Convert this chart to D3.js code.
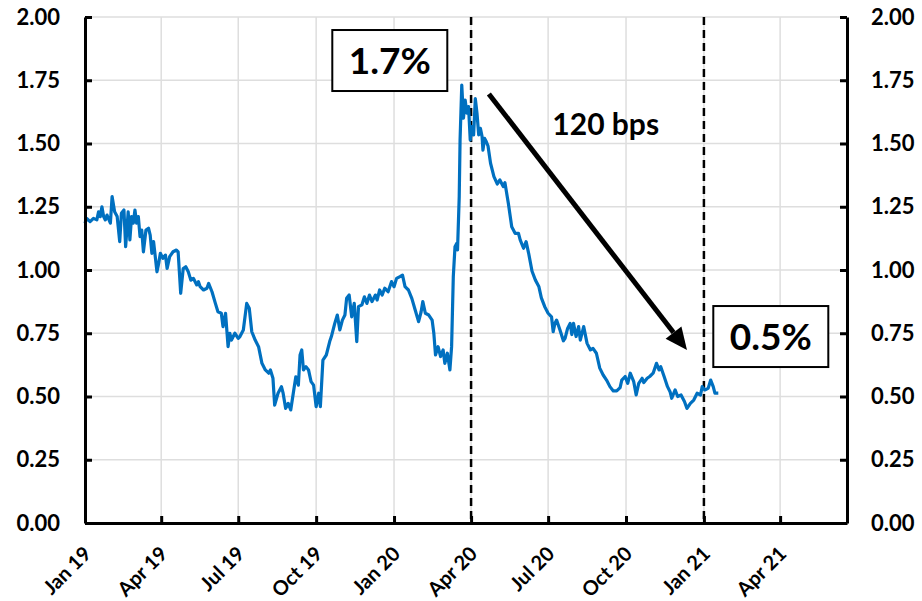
<!DOCTYPE html>
<html>
<head>
<meta charset="utf-8">
<script src="https://cdn.jsdelivr.net/npm/d3@7/dist/d3.min.js"></script>
<style>
  html, body { margin: 0; padding: 0; background: #fff; }
  svg { display: block; }
  text { font-family: Lato, "Open Sans", sans-serif; font-weight: 700; fill: #000; }
</style>
</head>
<body>
<svg id="chart" width="922" height="601"></svg>
<script>
// Daily yield observations (%), January 2019 – January 2021
const obsDates = [
  "2019-01-01","2019-01-03","2019-01-07","2019-01-11","2019-01-15","2019-01-17","2019-01-19","2019-01-21","2019-01-23","2019-01-25",
  "2019-01-27","2019-01-31","2019-02-02","2019-02-05","2019-02-08","2019-02-11","2019-02-13","2019-02-16","2019-02-18","2019-02-21",
  "2019-02-23","2019-02-25","2019-02-27","2019-03-01","2019-03-03","2019-03-05","2019-03-07","2019-03-09","2019-03-11","2019-03-14",
  "2019-03-17","2019-03-19","2019-03-21","2019-03-23","2019-03-27","2019-03-29","2019-03-31","2019-04-03","2019-04-06","2019-04-08",
  "2019-04-11","2019-04-15","2019-04-19","2019-04-21","2019-04-24","2019-04-27","2019-04-30","2019-05-03","2019-05-06","2019-05-09",
  "2019-05-13","2019-05-15","2019-05-17","2019-05-21","2019-05-25","2019-05-27","2019-05-31","2019-06-04","2019-06-07","2019-06-11",
  "2019-06-13","2019-06-16","2019-06-19","2019-06-21","2019-06-23","2019-06-27","2019-07-01","2019-07-03","2019-07-07","2019-07-11",
  "2019-07-14","2019-07-17","2019-07-21","2019-07-25","2019-07-29","2019-08-02","2019-08-06","2019-08-08","2019-08-11","2019-08-13",
  "2019-08-17","2019-08-21","2019-08-23","2019-08-26","2019-08-29","2019-09-01","2019-09-04","2019-09-07","2019-09-10","2019-09-12",
  "2019-09-14","2019-09-16","2019-09-19","2019-09-22","2019-09-25","2019-09-28","2019-10-01","2019-10-04","2019-10-06","2019-10-09",
  "2019-10-13","2019-10-17","2019-10-19","2019-10-23","2019-10-26","2019-10-29","2019-11-01","2019-11-04","2019-11-06","2019-11-09",
  "2019-11-12","2019-11-15","2019-11-18","2019-11-20","2019-11-24","2019-11-27","2019-11-30","2019-12-03","2019-12-06","2019-12-10",
  "2019-12-12","2019-12-15","2019-12-18","2019-12-21","2019-12-25","2019-12-29","2020-01-01","2020-01-04","2020-01-08","2020-01-11",
  "2020-01-14","2020-01-18","2020-01-22","2020-01-26","2020-01-30","2020-02-02","2020-02-04","2020-02-07","2020-02-11","2020-02-15",
  "2020-02-17","2020-02-19","2020-02-22","2020-02-25","2020-02-28","2020-03-01","2020-03-04","2020-03-07","2020-03-09","2020-03-11",
  "2020-03-13","2020-03-15","2020-03-16","2020-03-18","2020-03-19","2020-03-21","2020-03-23","2020-03-25","2020-03-27","2020-03-29",
  "2020-03-31","2020-04-02","2020-04-04","2020-04-06","2020-04-08","2020-04-10","2020-04-12","2020-04-14","2020-04-15","2020-04-17",
  "2020-04-19","2020-04-21","2020-04-24","2020-04-28","2020-05-02","2020-05-05","2020-05-09","2020-05-11","2020-05-15","2020-05-19",
  "2020-05-23","2020-05-27","2020-05-29","2020-06-02","2020-06-05","2020-06-08","2020-06-12","2020-06-16","2020-06-20","2020-06-23",
  "2020-06-27","2020-07-01","2020-07-05","2020-07-07","2020-07-09","2020-07-11","2020-07-15","2020-07-19","2020-07-21","2020-07-24",
  "2020-07-27","2020-07-29","2020-07-31","2020-08-03","2020-08-06","2020-08-08","2020-08-12","2020-08-16","2020-08-20","2020-08-23",
  "2020-08-27","2020-08-31","2020-09-04","2020-09-08","2020-09-12","2020-09-16","2020-09-20","2020-09-24","2020-09-26","2020-09-30",
  "2020-10-03","2020-10-06","2020-10-10","2020-10-13","2020-10-16","2020-10-20","2020-10-22","2020-10-26","2020-10-29","2020-11-02",
  "2020-11-06","2020-11-09","2020-11-11","2020-11-15","2020-11-19","2020-11-22","2020-11-24","2020-11-28","2020-12-01","2020-12-05",
  "2020-12-09","2020-12-12","2020-12-16","2020-12-20","2020-12-24","2020-12-28","2020-12-30","2021-01-02","2021-01-06","2021-01-09",
  "2021-01-12","2021-01-14","2021-01-18"
];
const yieldValues = [
  1.185,1.204,1.191,1.204,1.198,1.230,1.211,1.250,1.211,1.198,
  1.217,1.185,1.290,1.230,1.211,1.112,1.224,1.237,1.092,1.230,
  1.119,1.211,1.185,1.237,1.185,1.211,1.132,1.158,1.072,1.158,
  1.165,1.138,1.066,1.112,0.993,1.026,1.066,1.046,1.059,1.006,
  1.053,1.072,1.079,1.072,0.908,1.006,1.013,0.993,0.960,0.967,
  0.941,0.954,0.934,0.921,0.928,0.947,0.914,0.868,0.835,0.829,
  0.776,0.829,0.697,0.750,0.723,0.750,0.730,0.737,0.763,0.868,
  0.849,0.756,0.723,0.697,0.631,0.605,0.592,0.605,0.572,0.466,
  0.513,0.539,0.513,0.453,0.473,0.447,0.513,0.578,0.545,0.664,
  0.684,0.605,0.618,0.605,0.559,0.545,0.460,0.513,0.460,0.644,
  0.664,0.717,0.737,0.789,0.822,0.763,0.802,0.822,0.888,0.901,
  0.815,0.868,0.717,0.855,0.862,0.894,0.868,0.901,0.875,0.901,
  0.881,0.921,0.901,0.928,0.914,0.954,0.934,0.967,0.974,0.980,
  0.934,0.921,0.888,0.842,0.796,0.835,0.875,0.829,0.822,0.802,
  0.750,0.664,0.697,0.658,0.684,0.631,0.671,0.605,0.697,0.974,
  1.092,1.105,1.079,1.290,1.514,1.731,1.600,1.672,1.620,1.646,
  1.514,1.567,1.534,1.677,1.619,1.534,1.560,1.527,1.474,1.520,
  1.507,1.490,1.422,1.369,1.340,1.356,1.330,1.345,1.264,1.171,
  1.145,1.145,1.119,1.086,1.112,1.066,0.995,0.960,0.935,0.890,
  0.855,0.829,0.815,0.756,0.789,0.802,0.763,0.720,0.730,0.769,
  0.789,0.745,0.789,0.737,0.776,0.723,0.776,0.710,0.684,0.690,
  0.671,0.612,0.585,0.565,0.539,0.522,0.522,0.535,0.565,0.579,
  0.552,0.592,0.560,0.506,0.552,0.572,0.555,0.572,0.579,0.592,
  0.631,0.605,0.618,0.579,0.539,0.519,0.493,0.526,0.500,0.506,
  0.480,0.453,0.473,0.486,0.513,0.506,0.539,0.526,0.532,0.565,
  0.539,0.513,0.513
];

// Axis ticks
const yTickValues = [0, 0.25, 0.5, 0.75, 1.0, 1.25, 1.5, 1.75, 2.0];
const xTickDates = ["2019-01-01","2019-04-01","2019-07-01","2019-10-01","2020-01-01",
                    "2020-04-01","2020-07-01","2020-10-01","2021-01-01","2021-04-01"];
const markerDates = ["2020-04-01", "2021-01-01"];   // dashed reference lines
const xDomain = ["2019-01-01", "2021-06-19"];
const yDomain = [0, 2];

const parse = d3.timeParse("%Y-%m-%d");
const series = obsDates.map((d, i) => ({ date: parse(d), value: yieldValues[i] }));

const svg = d3.select("#chart");
const W = 922, H = 601;
const margin = { top: 17, right: 75, bottom: 78, left: 85 };
const innerW = W - margin.left - margin.right;
const innerH = H - margin.top - margin.bottom;

svg.append("rect").attr("width", W).attr("height", H).attr("fill", "#fff");
const g = svg.append("g").attr("transform", `translate(${margin.left},${margin.top})`);

const x = d3.scaleTime().domain(xDomain.map(parse)).range([0, innerW]);
const y = d3.scaleLinear().domain(yDomain).range([innerH, 0]);

// Gridlines
g.append("g").selectAll("line").data(yTickValues).join("line")
  .attr("x1", 0).attr("x2", innerW)
  .attr("y1", d => y(d)).attr("y2", d => y(d))
  .attr("stroke", "#dedede").attr("stroke-width", 1.5);
g.append("g").selectAll("line").data(xTickDates.map(parse)).join("line")
  .attr("x1", d => x(d)).attr("x2", d => x(d))
  .attr("y1", 0).attr("y2", innerH)
  .attr("stroke", "#dedede").attr("stroke-width", 1.5);

// Dashed reference lines
g.append("g").selectAll("line").data(markerDates.map(parse)).join("line")
  .attr("x1", d => x(d)).attr("x2", d => x(d))
  .attr("y1", y(2)).attr("y2", innerH)
  .attr("stroke", "#000").attr("stroke-width", 2.5)
  .attr("stroke-dasharray", "8,5");

// Series line
const line = d3.line().x(d => x(d.date)).y(d => y(d.value));
g.append("path").datum(series)
  .attr("d", line)
  .attr("fill", "none")
  .attr("stroke", "#0070C0")
  .attr("stroke-width", 3.2)
  .attr("stroke-linejoin", "round");

// Axes
const fmtY = d3.format(".2f");
function styleAxis(sel) {
  sel.select(".domain").attr("stroke", "#000").attr("stroke-width", 3);
  sel.selectAll(".tick line").attr("stroke", "#000").attr("stroke-width", 3);
  sel.selectAll(".tick text").attr("font-size", 22).attr("fill", "#111");
}
g.append("g")
  .call(d3.axisLeft(y).tickValues(yTickValues).tickFormat(fmtY).tickSizeInner(-7).tickSizeOuter(0).tickPadding(25))
  .call(styleAxis);
g.append("g").attr("transform", `translate(${innerW},0)`)
  .call(d3.axisRight(y).tickValues(yTickValues).tickFormat(fmtY).tickSizeInner(-7).tickSizeOuter(0).tickPadding(24))
  .call(styleAxis);
const xAxis = g.append("g").attr("transform", `translate(0,${innerH})`)
  .call(d3.axisBottom(x).tickValues(xTickDates.map(parse)).tickFormat(d3.timeFormat("%b %y")).tickSizeInner(-7).tickSizeOuter(0))
  .call(styleAxis);
xAxis.selectAll(".tick text")
  .attr("x", 0).attr("y", 0).attr("dy", null)
  .attr("text-anchor", "end")
  .attr("font-size", 20)
  .attr("transform", "translate(7,32) rotate(-45)");

// Annotations derived from the series
const peak = d3.max(series, d => d.value);
const latest = series.find(d => d.date >= parse("2021-01-01")).value;
const peakLabel = d3.format(".1f")(peak);
const latestLabel = d3.format(".1f")(latest);
const moveBps = Math.round((+peakLabel - +latestLabel) * 100);

function boxedLabel(cx, cy, text, w, h) {
  const grp = g.append("g");
  grp.append("rect")
    .attr("x", cx - w / 2).attr("y", cy - h / 2).attr("width", w).attr("height", h)
    .attr("fill", "#fff").attr("stroke", "#000").attr("stroke-width", 2);
  grp.append("text")
    .attr("x", cx).attr("y", cy + 13)
    .attr("text-anchor", "middle").attr("font-size", 37)
    .text(text);
}
boxedLabel(x(parse("2019-12-27")), y(1.828), peakLabel + "%", 115, 61);
boxedLabel(x(parse("2021-03-21")), y(0.737), latestLabel + "%", 115, 61);

g.append("text")
  .attr("x", x(parse("2020-07-06"))).attr("y", y(1.534))
  .attr("font-size", 30)
  .text(moveBps + " bps");

// Arrow from the peak towards the latest level
const ax1 = x(parse("2020-04-22")), ay1 = y(1.696);
const ax2 = x(parse("2020-12-12")), ay2 = y(0.684);
const ang = Math.atan2(ay2 - ay1, ax2 - ax1);
const headLen = 22, headHalf = 10;
const bx = ax2 - headLen * Math.cos(ang), by = ay2 - headLen * Math.sin(ang);
g.append("line")
  .attr("x1", ax1).attr("y1", ay1).attr("x2", bx).attr("y2", by)
  .attr("stroke", "#000").attr("stroke-width", 5);
g.append("path")
  .attr("d", `M${ax2},${ay2}L${bx + headHalf * Math.sin(ang)},${by - headHalf * Math.cos(ang)}L${bx - headHalf * Math.sin(ang)},${by + headHalf * Math.cos(ang)}Z`)
  .attr("fill", "#000");
</script>
</body>
</html>
